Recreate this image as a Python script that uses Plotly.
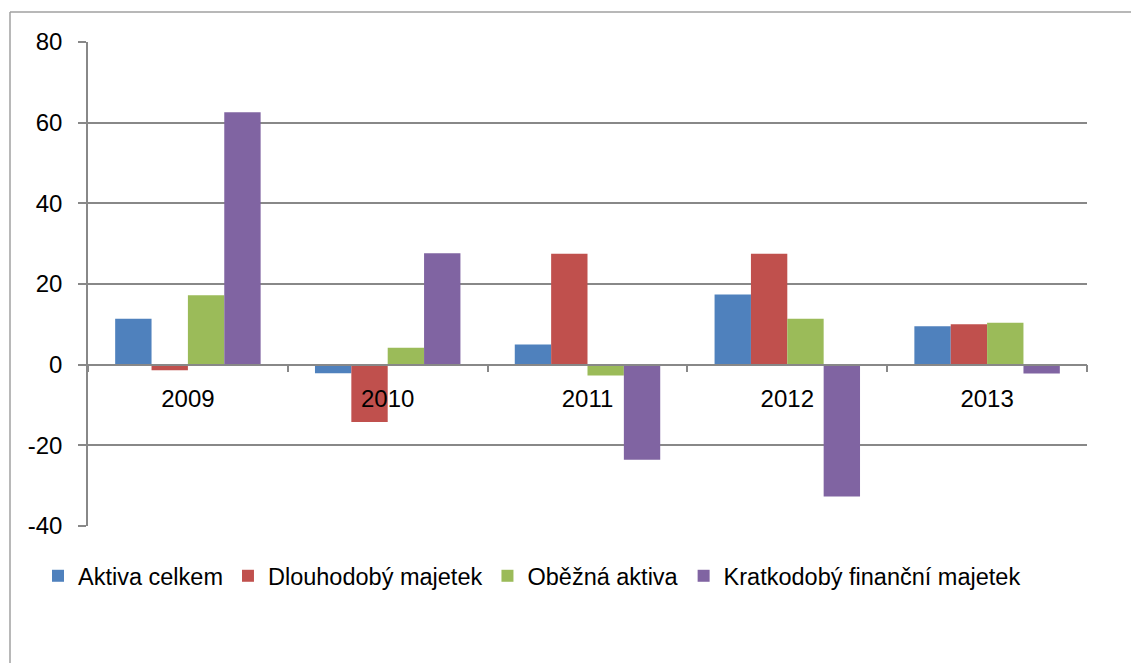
import plotly.graph_objects as go

years = ["2009", "2010", "2011", "2012", "2013"]
aktiva_celkem = [11.4, -2.1, 5.0, 17.4, 9.5]
dlouhodoby_majetek = [-1.4, -14.2, 27.5, 27.5, 10.0]
obezna_aktiva = [17.2, 4.2, -2.7, 11.4, 10.4]
kratkodoby_fin_majetek = [62.6, 27.6, -23.6, -32.7, -2.2]

y_tick_vals = [-40, -20, 0, 20, 40, 60, 80]
y_tick_text = ["-40", "-20", "0", "20", "40", "60", "80"]

series = [
    ("Aktiva celkem", aktiva_celkem, "#4F81BD"),
    ("Dlouhodobý majetek", dlouhodoby_majetek, "#C0504D"),
    ("Oběžná aktiva", obezna_aktiva, "#9BBB59"),
    ("Kratkodobý finanční majetek", kratkodoby_fin_majetek, "#8064A2"),
]

W, H = 1131, 663
L, R, T, B = 88, 1087, 42, 526
pw, ph = R - L, B - T

FONT = "Liberation Sans, Arial, sans-serif"
GRID = "#888888"

fig = go.Figure()
for name, vals, col in series:
    fig.add_trace(go.Bar(x=years, y=vals, name=name, marker=dict(color=col, line=dict(width=0))))

fig.update_layout(
    width=W, height=H,
    margin=dict(l=L, r=W - R, t=T, b=H - B, autoexpand=False),
    paper_bgcolor="white", plot_bgcolor="white",
    font=dict(family=FONT, size=24, color="#000000"),
    barmode="group", bargap=0.272, bargroupgap=0,
    showlegend=True,
    legend=dict(orientation="h", x=(38 - L) / pw, xanchor="left",
                y=-(576 - B) / ph, yanchor="middle",
                font=dict(family=FONT, size=23.5), itemclick=False,
                bgcolor="rgba(0,0,0,0)", traceorder="normal"),
    xaxis=dict(anchor="free", position=40 / 120, showline=True, linecolor=GRID, linewidth=1.5,
               ticks="outside", tickson="boundaries", ticklen=7, tickcolor=GRID, tickwidth=1.5,
               ticklabelstandoff=13, showgrid=False, zeroline=False,
               tickfont=dict(family=FONT, size=24)),
    yaxis=dict(range=[-40, 80], tickvals=y_tick_vals, ticktext=y_tick_text,
               showline=True, linecolor=GRID, linewidth=1.5,
               ticks="outside", ticklen=8, tickcolor=GRID, tickwidth=1.5,
               showgrid=True, gridcolor=GRID, gridwidth=1.5, zeroline=False,
               ticklabelstandoff=11, tickfont=dict(family=FONT, size=24)),
    shapes=[
        dict(type="line", xref="paper", yref="paper",
             x0=(10 - L) / pw, x1=(W + 5 - L) / pw, y0=(B - 12) / ph, y1=(B - 12) / ph,
             line=dict(color="#a0a0a0", width=1.5)),
        dict(type="line", xref="paper", yref="paper",
             x0=(10 - L) / pw, x1=(10 - L) / pw, y0=(B - 12) / ph, y1=(B - H - 5) / ph,
             line=dict(color="#a0a0a0", width=1.5)),
    ],
)

fig.write_html("out.html", config={"displayModeBar": False},
               post_script="document.body.style.margin='0px';document.body.style.padding='0px';")
